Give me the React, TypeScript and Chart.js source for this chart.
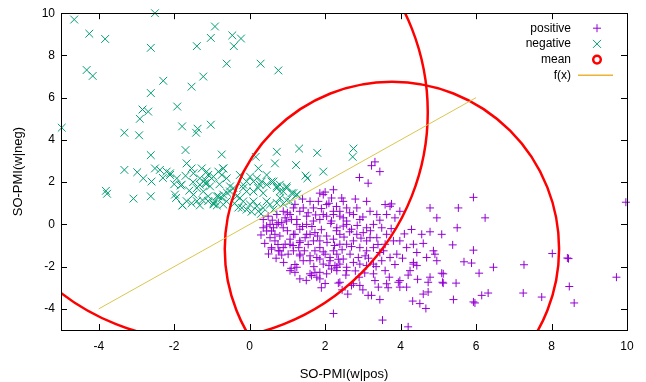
import React, { useEffect, useRef } from "react";
import { Chart, registerables } from "chart.js";

Chart.register(...registerables);

// ---- axis setup ----
const xRange = [-5, 10];
const yRange = [-5, 10];
const xTicks = [-4, -2, 0, 2, 4, 6, 8, 10];
const yTicks = [-4, -2, 0, 2, 4, 6, 8, 10];
const xTitle = "SO-PMI(w|pos)";
const yTitle = "SO-PMI(w|neg)";
const legendLabels = ["positive", "negative", "mean", "f(x)"];

// ---- positive words: [SO-PMI(w|pos), SO-PMI(w|neg)] ----
const positive: [number, number][] = [
  [3.23, 2.78], [3.45, 2.5], [2.91, 2.22], [3.14, 1.95], [2.22, 1.64], [1.86, 1.48], [2.0, 1.53], [2.44, 1.25],
  [3.1, 1.09], [3.59, 0.94], [3.72, 0.86], [3.76, 0.97], [4.78, 0.78], [4.96, 0.31], [5.09, -0.47], [4.78, -0.35],
  [4.56, -0.47], [4.29, -0.24], [3.98, -0.78], [4.34, -0.94], [4.16, -1.1], [3.9, -1.41], [3.72, -1.57], [4.43, -1.33],
  [4.87, -1.25], [4.91, -1.41], [4.69, -1.57], [5.13, -2.34], [4.78, -2.5], [4.73, -2.74], [4.34, -1.88], [4.25, -2.19],
  [3.98, -2.66], [3.94, -2.74], [3.63, -2.81], [4.16, -2.97], [3.5, -1.72], [3.59, -2.19], [3.28, -2.34], [3.32, -2.66],
  [3.23, -3.36], [2.75, -2.81], [2.92, -2.89], [2.35, -2.78], [1.6, -2.34], [1.78, -2.5], [1.86, -2.27], [2.04, -2.34],
  [1.07, -2.19], [1.2, -2.27], [1.33, -2.58], [2.26, -1.95], [2.39, -1.88], [2.57, -2.03], [2.75, -1.8], [2.92, -1.88],
  [3.1, -1.95], [2.66, -1.41], [2.88, -1.57], [3.06, -1.49], [3.28, -1.88],
  [0.36, -0.16], [0.45, -0.08], [0.58, -0.31], [0.72, 0.0], [0.85, 0.08], [0.98, 0.16], [1.11, 0.23], [1.25, 0.0],
  [1.33, -0.23], [1.51, 0.0], [1.69, 0.16], [1.86, 0.23], [2.04, 0.39], [2.22, 0.47], [2.39, 0.62], [2.48, 0.31],
  [2.57, 0.0], [0.54, -0.63], [0.67, -0.78], [0.8, -0.55], [0.94, -0.94], [1.07, -0.7], [1.2, -0.47], [1.33, -0.86],
  [1.47, -0.63], [1.6, -0.47], [1.73, -0.39], [1.86, -0.78], [2.04, -0.55], [2.22, -0.7], [2.39, -0.47], [2.57, -0.94],
  [0.58, -1.17], [0.76, -1.25], [0.89, -1.1], [1.02, -1.41], [1.16, -1.25], [1.33, -1.49], [1.42, -1.72], [1.6, -1.49],
  [1.73, -1.25], [1.86, -1.64], [2.0, -1.41], [2.13, -1.57], [2.31, -1.41], [2.48, -1.64], [1.1, -2.08], [1.64, -2.42],
  [1.73, -2.27], [1.86, -2.58], [2.17, -2.11], [2.31, -2.19], [2.39, -2.74], [2.57, -2.19], [2.22, -4.22],
  [2.7, -2.89], [3.14, -3.36], [3.45, -3.56], [3.41, -2.97], [3.67, -3.0], [3.98, -2.97], [3.52, -4.53], [4.2, -4.85],
  [4.32, -3.63], [4.51, -3.75], [4.67, -3.98], [4.73, -3.2], [5.13, -2.78], [5.47, -2.78], [5.4, -3.56], [5.93, -3.67],
  [6.15, -3.36], [6.32, -3.25], [7.25, -3.25], [7.74, -3.44], [8.47, -2.94], [8.6, -3.72], [9.72, -2.5],
  [5.93, 1.28], [5.53, 0.78], [6.24, 0.31], [5.5, -0.16], [5.38, -0.97], [5.93, -1.22], [5.68, -1.77], [5.88, -1.83],
  [6.46, -2.03], [6.08, -2.31], [7.27, -1.91], [8.02, -1.38], [8.42, -1.59], [8.45, -1.62], [9.97, 1.05], [5.97, -3.72],
  [5.09, -2.31], [5.11, -2.74], [4.96, -1.72], [4.43, -1.95], [4.34, -1.8],
  [0.36, 0.23], [0.54, 0.0], [0.45, -0.31], [0.67, -0.47], [0.58, -1.1], [0.8, -1.25], [0.89, -0.16], [1.07, 0.47],
  [1.25, 0.23], [1.33, 0.62], [1.51, 0.39], [1.69, 0.78], [1.82, 1.09], [2.04, 0.94], [2.22, 0.62], [2.39, 0.39],
  [2.57, 0.16], [2.75, 0.47], [2.92, 0.23], [3.1, -0.16], [3.28, 0.0], [3.5, -0.16], [3.63, -0.47], [3.37, -0.63],
  [3.1, -0.78], [2.92, -1.1], [2.75, -0.78], [2.39, -0.94], [2.22, -1.25], [1.86, -1.1], [1.69, -0.78], [1.51, -0.47],
  [1.33, -0.78], [1.16, -0.47], [1.07, -0.94], [1.33, -1.41], [1.6, -1.72], [1.78, -1.57], [1.95, -1.88], [2.13, -1.72],
  [2.31, -2.03], [1.25, -2.03], [0.63, -0.16], [0.76, 0.08], [0.94, 0.31], [1.95, 0.47], [2.17, 0.16], [2.31, -0.16],
  [2.48, -0.08], [2.7, -0.23], [2.84, -0.47], [3.01, -0.39], [3.19, -0.63], [3.28, -1.1], [3.1, -1.25], [3.45, -1.33],
  [3.59, -0.94], [3.81, -0.78], [3.85, 0.31], [3.98, 0.62], [3.63, 0.47], [3.37, 0.47], [3.19, 0.62], [2.84, 0.78],
  [2.57, 0.78], [2.48, 1.09], [2.17, 1.25], [1.95, 1.41], [1.6, 1.09], [1.42, 0.78], [1.16, 0.78], [0.89, 0.62],
  [0.72, 0.47], [0.49, 0.39], [2.6, -3.3], [3.0, -3.1], [2.9, -2.5], [3.32, 2.96],
  [0.3, -0.5], [0.4, -0.9], [0.5, -1.4], [0.7, -1.6], [0.9, -1.8], [1.0, -0.3], [1.15, -1.0], [1.3, -1.1],
  [1.4, -0.1], [1.45, -1.25], [1.55, -0.95], [1.65, -0.1], [1.7, -2.0], [1.8, -0.55], [1.9, -0.25], [1.95, -1.3],
  [2.05, -0.85], [2.1, -1.95], [2.15, 0.05], [2.25, -1.0], [2.3, -0.3], [2.35, -1.65], [2.45, -1.2], [2.5, -0.6],
  [2.55, -2.4], [2.65, -0.35], [2.7, -1.05], [2.8, -2.2], [2.85, -0.05], [2.95, -0.65], [3.05, -2.3], [3.15, -1.6],
  [3.2, -0.3], [3.35, -2.0], [3.4, -0.95], [3.55, -1.25], [3.7, -2.5], [3.75, -0.2], [3.85, -1.9], [4.05, -1.6],
  [4.1, -0.45], [4.2, -2.4], [4.45, -2.6], [4.6, -0.9], [4.6, -3.3], [1.0, 0.55], [1.2, 0.95], [1.4, 1.2],
  [1.55, 0.55], [1.75, 0.45], [1.9, 0.75], [2.1, 1.0], [2.3, 0.85], [2.65, 0.55], [2.8, 1.2], [3.0, 0.35],
  [3.45, 0.2], [0.6, 0.2], [0.75, -0.95], [0.85, -1.45], [1.2, -1.9], [1.5, -2.65], [2.0, -2.8], [2.45, -3.1],
  [1.9, -3.0],
];

// ---- negative words ----
const negative: [number, number][] = [
  [-4.65, 9.7], [-4.25, 9.03], [-3.83, 8.78], [-2.51, 10.0], [-2.62, 8.36], [-4.32, 7.31], [-4.16, 7.03], [-2.29, 6.8],
  [-2.62, 6.22], [-1.92, 5.58], [-4.98, 4.58], [-2.84, 5.44], [-2.69, 5.34], [-2.91, 5.0], [-3.32, 4.34], [-2.93, 4.22],
  [-1.79, 4.64], [-1.38, 4.53], [-1.42, 4.34], [-1.03, 4.72], [-1.54, 6.52], [-1.23, 7.0], [-1.4, 8.44], [-1.03, 8.83],
  [-0.92, 9.37], [-0.46, 8.95], [-0.23, 8.8], [-0.42, 8.44], [-0.61, 7.61], [0.29, 7.61], [0.76, 7.29], [-1.7, 3.52],
  [-2.62, 3.28], [-0.74, 3.31], [0.72, 3.44], [1.31, 3.59], [1.79, 3.39], [2.75, 3.59], [2.73, 3.2], [0.16, 3.2],
  [0.67, 2.89], [1.23, 2.81], [1.95, 2.5], [1.48, 2.31], [1.53, 2.18], [0.23, 2.65],
  [-3.32, 2.58], [-2.98, 2.47], [-2.82, 2.18], [-2.6, 2.03], [-2.51, 2.65], [-2.38, 2.58], [-2.2, 2.5], [-2.11, 2.42],
  [-1.93, 2.18], [-1.8, 1.88], [-3.81, 1.59], [-3.78, 1.45], [-3.08, 1.22], [-2.62, 1.33], [-1.95, 1.25], [-1.78, 0.9],
  [-1.67, 2.89], [-1.54, 2.65], [-1.49, 2.42], [-2.11, 2.34], [-1.83, 1.84], [-1.27, 2.65], [-1.14, 2.5], [-1.1, 2.34],
  [-1.01, 2.18], [-1.18, 1.95], [-1.32, 1.88], [-1.4, 1.72], [-0.7, 2.65], [-0.74, 2.34], [-0.52, 1.8], [0.19, 2.18],
  [0.1, 2.03], [0.27, 1.88], [0.45, 2.34], [0.63, 2.03], [0.72, 1.8], [0.8, 1.56], [-0.17, 1.88], [-0.08, 1.56],
  [0.98, 1.72], [1.11, 1.48], [1.25, 1.41], [-0.7, 1.41], [-0.87, 1.33], [-1.98, 1.41], [-1.49, 1.41],
  [-1.78, 0.9], [-1.67, 1.1], [-1.54, 1.0], [-1.4, 1.1], [-1.32, 0.9], [-1.1, 1.1], [-0.96, 1.0], [-0.87, 0.9],
  [-1.32, 2.18], [-1.18, 2.11], [-1.14, 1.95], [-1.05, 1.8], [-0.96, 2.26], [-1.23, 1.56], [-1.1, 1.33], [-0.92, 1.09],
  [-0.83, 1.33], [-0.74, 1.25], [-0.7, 0.94], [-0.61, 1.09], [-0.52, 1.56], [-0.43, 1.72], [-0.34, 1.33], [-0.26, 1.25],
  [-0.17, 1.09], [-0.21, 0.78], [-0.08, 0.7], [0.01, 0.94], [0.1, 1.09], [0.19, 0.86], [0.23, 0.62], [0.36, 0.78],
  [0.45, 1.09], [0.54, 0.94], [0.63, 0.7], [0.72, 1.01], [0.8, 1.25], [0.89, 0.98], [0.98, 1.14], [1.07, 1.09],
  [1.16, 1.48], [1.25, 1.41], [0.1, 1.56], [0.23, 1.72], [0.36, 1.48], [0.45, 1.88], [0.58, 2.03], [0.72, 1.72],
  [0.8, 1.88], [0.89, 1.56], [0.98, 1.8], [0.32, 2.03], [0.01, 2.26], [-0.08, 2.03], [-0.17, 1.72], [-0.83, 2.5],
  [-0.7, 2.65], [-0.61, 2.18], [-0.26, 2.34], [-1.6, 1.6], [-1.25, 1.15], [-0.95, 0.95], [-1.5, 2.0], [-1.7, 2.3],
  [-2.0, 1.9], [-2.3, 2.2], [-0.8, 1.9], [-0.6, 1.5], [-0.4, 1.0], [-0.3, 0.8], [0.05, 0.6], [0.3, 0.5],
];

// ---- class means (circle radius in x-axis units) ----
const meanX = [3.77, -1.32];
const meanY = [-1.16, 5.31];
const meanR = [4.43, 6.04];

// ---- separating line f(x) ----
const fxX = [-4, 6];
const fxY = [-4, 6];

const PURPLE = "rgb(148,0,211)";
const GREEN = "rgb(0,158,115)";
const RED = "rgb(255,0,0)";
const FX_LINE = "rgba(215,195,70,0.95)";
const FX_LEGEND = "rgb(238,178,52)";
const FONT = "'Liberation Sans', Arial, sans-serif";

const framePlugin = {
  id: "gnuFrame",
  afterDatasetsDraw(chart: any) {
    const { ctx, chartArea: a, scales } = chart;
    ctx.save();
    ctx.strokeStyle = "#000";
    ctx.lineWidth = 1;
    ctx.beginPath();
    const tl = 6;
    xTicks.forEach((v) => {
      const x = Math.round(scales.x.getPixelForValue(v)) + 0.5;
      ctx.moveTo(x, a.bottom);
      ctx.lineTo(x, a.bottom - tl);
      ctx.moveTo(x, a.top);
      ctx.lineTo(x, a.top + tl);
    });
    yTicks.forEach((v) => {
      const y = Math.round(scales.y.getPixelForValue(v)) + 0.5;
      ctx.moveTo(a.left, y);
      ctx.lineTo(a.left + tl, y);
      ctx.moveTo(a.right, y);
      ctx.lineTo(a.right - tl, y);
    });
    ctx.stroke();
    ctx.strokeRect(Math.round(a.left) + 0.5, Math.round(a.top) + 0.5, Math.round(a.right - a.left), Math.round(a.bottom - a.top));

    // legend (inside top-right)
    const textX = a.right - 56;
    const symX = a.right - 30;
    ctx.font = `12px ${FONT}`;
    ctx.textAlign = "right";
    ctx.textBaseline = "middle";
    legendLabels.forEach((label, i) => {
      const y = a.top + 15 + i * 15.7;
      ctx.fillStyle = "#000";
      ctx.fillText(label, textX, y);
      ctx.beginPath();
      if (i === 0) {
        ctx.strokeStyle = PURPLE;
        ctx.lineWidth = 1;
        ctx.moveTo(symX - 4, y); ctx.lineTo(symX + 4, y);
        ctx.moveTo(symX, y - 4); ctx.lineTo(symX, y + 4);
        ctx.stroke();
      } else if (i === 1) {
        ctx.strokeStyle = GREEN;
        ctx.lineWidth = 1;
        ctx.moveTo(symX - 4, y - 4); ctx.lineTo(symX + 4, y + 4);
        ctx.moveTo(symX - 4, y + 4); ctx.lineTo(symX + 4, y - 4);
        ctx.stroke();
      } else if (i === 2) {
        ctx.strokeStyle = RED;
        ctx.lineWidth = 2.5;
        ctx.arc(symX, y, 3.8, 0, Math.PI * 2);
        ctx.stroke();
      } else {
        ctx.strokeStyle = FX_LEGEND;
        ctx.lineWidth = 1.5;
        ctx.moveTo(symX - 19, y);
        ctx.lineTo(symX + 16, y);
        ctx.stroke();
      }
    });
    ctx.restore();
  },
};

export default function App() {
  const ref = useRef<HTMLCanvasElement>(null);

  useEffect(() => {
    document.body.style.margin = "0";
    const canvas = ref.current!;
    const circleRadius = (ctx: any) => {
      const s = ctx.chart.scales.x;
      const i = ctx.dataIndex ?? 0;
      if (!s) return 0;
      return Math.abs(s.getPixelForValue(meanR[i]) - s.getPixelForValue(0));
    };
    const chart = new Chart(canvas, {
      type: "scatter",
      data: {
        datasets: [
          {
            label: legendLabels[0],
            data: positive.map(([x, y]) => ({ x, y })),
            pointStyle: "cross",
            pointRadius: 4,
            pointBorderWidth: 1,
            borderColor: PURPLE,
            backgroundColor: PURPLE,
            clip: 8,
            order: 4,
          },
          {
            label: legendLabels[1],
            data: negative.map(([x, y]) => ({ x, y })),
            pointStyle: "crossRot",
            pointRadius: 5.5,
            pointBorderWidth: 1,
            borderColor: GREEN,
            backgroundColor: GREEN,
            clip: 8,
            order: 3,
          },
          {
            label: legendLabels[2],
            data: meanX.map((x, i) => ({ x, y: meanY[i] })),
            pointStyle: "circle",
            pointRadius: circleRadius,
            pointBorderWidth: 2.5,
            borderColor: RED,
            backgroundColor: "rgba(0,0,0,0)",
            clip: 0,
            order: 2,
          },
          {
            type: "line",
            label: legendLabels[3],
            data: fxX.map((x, i) => ({ x, y: fxY[i] })),
            showLine: true,
            borderColor: FX_LINE,
            borderWidth: 1,
            pointRadius: 0,
            fill: false,
            clip: 0,
            order: 1,
          } as any,
        ],
      },
      options: {
        responsive: false,
        maintainAspectRatio: false,
        animation: false,
        devicePixelRatio: 1,
        events: [],
        layout: { padding: { top: 10, right: 19, left: 0, bottom: 0 } },
        plugins: {
          legend: { display: false },
          tooltip: { enabled: false },
        },
        scales: {
          x: {
            type: "linear",
            min: xRange[0],
            max: xRange[1],
            afterBuildTicks: (s: any) => {
              s.ticks = xTicks.map((v) => ({ value: v }));
            },
            afterFit: (s: any) => {
              s.height = 52;
            },
            grid: { display: false, drawTicks: false },
            border: { display: false },
            ticks: {
              color: "#000",
              font: { family: FONT, size: 12 },
              padding: 9,
              maxRotation: 0,
              autoSkip: false,
            },
            title: {
              display: true,
              text: xTitle,
              color: "#000",
              font: { family: FONT, size: 13 },
              padding: { top: 3.5, bottom: 0 },
            },
          },
          y: {
            type: "linear",
            min: yRange[0],
            max: yRange[1],
            afterBuildTicks: (s: any) => {
              s.ticks = yTicks.map((v) => ({ value: v }));
            },
            afterFit: (s: any) => {
              s.width = 61;
            },
            grid: { display: false, drawTicks: false },
            border: { display: false },
            ticks: {
              color: "#000",
              font: { family: FONT, size: 12 },
              padding: 6,
              autoSkip: false,
            },
            title: {
              display: true,
              text: yTitle,
              color: "#000",
              font: { family: FONT, size: 13 },
              padding: { top: 11, bottom: 0 },
            },
          },
        },
      },
      plugins: [framePlugin],
    } as any);
    return () => chart.destroy();
  }, []);

  return (
    <div style={{ position: "absolute", left: 0, top: 0, width: 646, height: 382, background: "#fff" }}>
      <canvas ref={ref} width={646} height={382} style={{ width: 646, height: 382, display: "block" }} />
    </div>
  );
}
